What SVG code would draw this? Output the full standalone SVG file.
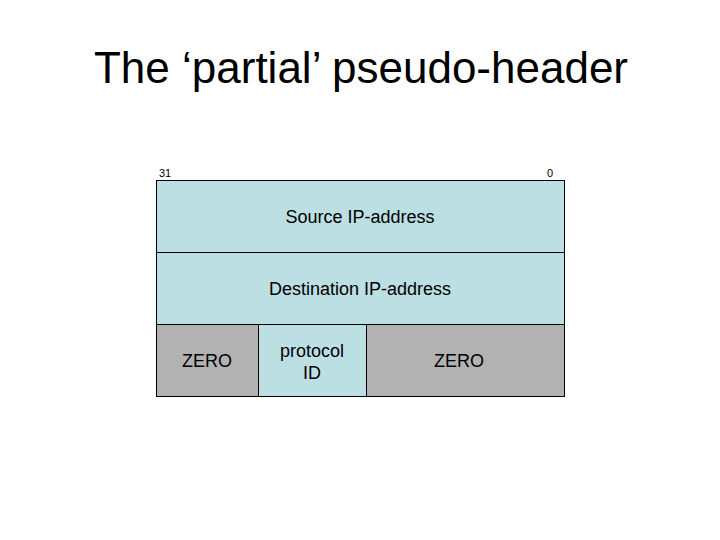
<svg xmlns="http://www.w3.org/2000/svg" width="720" height="540" viewBox="0 0 720 540">
<style>
text{font-family:"Liberation Sans",Arial,sans-serif;fill:#000}
.t{font-size:44px}
.l{font-size:18px}
.s{font-size:11px}
.blue{fill:#BBDFE3;stroke:#000;stroke-width:1}
.gray{fill:#B2B2B2;stroke:#000;stroke-width:1}
</style>
<rect width="720" height="540" fill="#fff"/>
<text class="t" x="361" y="83" text-anchor="middle">The ‘partial’ pseudo-header</text>
<text class="s" x="159" y="177">31</text>
<text class="s" x="553" y="177" text-anchor="end">0</text>
<g id="source">
<rect class="blue" x="156.5" y="180.5" width="408" height="72"/>
<text class="l" x="360" y="223" text-anchor="middle">Source IP-address</text>
</g>
<g id="destination">
<rect class="blue" x="156.5" y="252.5" width="408" height="72"/>
<text class="l" x="360" y="295" text-anchor="middle">Destination IP-address</text>
</g>
<g id="zero1">
<rect class="gray" x="156.5" y="324.5" width="102" height="72"/>
<text class="l" x="207" y="367" text-anchor="middle">ZERO</text>
</g>
<g id="protocol">
<rect class="blue" x="258.5" y="324.5" width="108" height="72"/>
<text class="l" x="312" y="357" text-anchor="middle">protocol</text>
<text class="l" x="312" y="379" text-anchor="middle">ID</text>
</g>
<g id="zero2">
<rect class="gray" x="366.5" y="324.5" width="198" height="72"/>
<text class="l" x="459" y="367" text-anchor="middle">ZERO</text>
</g>
<g id="connectors"></g>
</svg>
